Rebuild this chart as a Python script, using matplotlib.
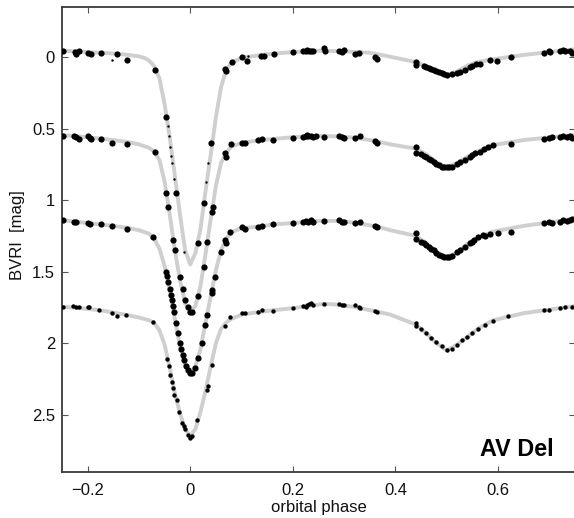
import matplotlib
matplotlib.use("Agg")
import matplotlib.pyplot as plt

plt.rcParams['font.family'] = ['Liberation Sans', 'DejaVu Sans']

# model light curves (phase, magnitude)
b_phase = [-0.25, -0.20, -0.15, -0.12, -0.10, -0.09, -0.08, -0.07, -0.06, -0.05, -0.04, -0.03, -0.02, -0.01, 0.0,
           0.01, 0.02, 0.03, 0.04, 0.05, 0.06, 0.07, 0.08, 0.10, 0.15, 0.20, 0.25, 0.30, 0.35, 0.38, 0.42, 0.44,
           0.46, 0.48, 0.50, 0.52, 0.54, 0.56, 0.60, 0.65, 0.70, 0.75]
b_mag = [-0.045, -0.035, -0.025, -0.015, -0.005, 0.005, 0.025, 0.065, 0.15, 0.33, 0.56, 0.83, 1.10, 1.35, 1.45,
         1.37, 1.20, 0.93, 0.68, 0.42, 0.21, 0.09, 0.04, 0.005, -0.02, -0.035, -0.045, -0.04, -0.03, -0.01, 0.02, 0.035,
         0.065, 0.10, 0.125, 0.10, 0.06, 0.035, 0.01, -0.015, -0.035, -0.055]

v_phase = [-0.25, -0.20, -0.15, -0.12, -0.10, -0.08, -0.07, -0.06, -0.05, -0.04, -0.03, -0.02, -0.01, 0.0,
           0.01, 0.02, 0.03, 0.04, 0.05, 0.06, 0.07, 0.08, 0.10, 0.137, 0.16, 0.20, 0.25, 0.29, 0.325, 0.365, 0.39,
           0.44, 0.46, 0.48, 0.50, 0.52, 0.546, 0.56, 0.59, 0.65, 0.69, 0.75]
v_mag = [0.545, 0.56, 0.58, 0.595, 0.61, 0.635, 0.66, 0.72, 0.87, 1.10, 1.35, 1.56, 1.72, 1.785,
         1.74, 1.60, 1.37, 1.13, 0.90, 0.74, 0.67, 0.625, 0.60, 0.58, 0.573, 0.56, 0.55, 0.555, 0.565, 0.59, 0.61,
         0.64, 0.68, 0.735, 0.77, 0.74, 0.685, 0.66, 0.615, 0.58, 0.565, 0.545]

r_phase = [-0.25, -0.20, -0.15, -0.12, -0.10, -0.08, -0.07, -0.06, -0.05, -0.04, -0.03, -0.02, -0.01, 0.0,
           0.01, 0.02, 0.03, 0.04, 0.05, 0.06, 0.07, 0.08, 0.10, 0.137, 0.16, 0.20, 0.25, 0.29, 0.325, 0.365, 0.39,
           0.44, 0.46, 0.48, 0.50, 0.52, 0.546, 0.56, 0.59, 0.65, 0.69, 0.75]
r_mag = [1.14, 1.16, 1.18, 1.195, 1.21, 1.235, 1.27, 1.34, 1.46, 1.63, 1.83, 2.02, 2.15, 2.205,
         2.16, 2.04, 1.85, 1.67, 1.49, 1.35, 1.27, 1.225, 1.195, 1.185, 1.17, 1.16, 1.145, 1.145, 1.16, 1.185, 1.21,
         1.25, 1.30, 1.36, 1.40, 1.365, 1.29, 1.265, 1.22, 1.18, 1.16, 1.13]

i_phase = [-0.25, -0.20, -0.175, -0.127, -0.10, -0.08, -0.07, -0.06, -0.05, -0.04, -0.03, -0.02, -0.01, 0.0,
           0.01, 0.02, 0.03, 0.04, 0.05, 0.06, 0.07, 0.08, 0.10, 0.137, 0.16, 0.20, 0.23, 0.26, 0.29, 0.325, 0.365,
           0.39, 0.44, 0.46, 0.48, 0.50, 0.52, 0.546, 0.56, 0.59, 0.65, 0.69, 0.75]
i_mag = [1.745, 1.76, 1.77, 1.80, 1.82, 1.84, 1.86, 1.91, 2.01, 2.17, 2.35, 2.49, 2.60, 2.65,
         2.60, 2.48, 2.33, 2.16, 2.00, 1.90, 1.855, 1.83, 1.80, 1.78, 1.77, 1.755, 1.74, 1.725, 1.73, 1.75, 1.78,
         1.80, 1.87, 1.93, 2.00, 2.05, 2.01, 1.94, 1.90, 1.84, 1.79, 1.77, 1.74]

# observations (large dots)
b_obs_phase = [-0.248, -0.224, -0.222, -0.216, -0.200, -0.193, -0.174, -0.142, -0.123, -0.068, -0.047, -0.027,
               0.016, 0.027, 0.041, 0.068, 0.069, 0.082, 0.10, 0.111, 0.137, 0.143, 0.164, 0.20, 0.22, 0.225,
               0.228, 0.232, 0.236, 0.24, 0.26, 0.262, 0.29, 0.295, 0.30, 0.322, 0.328, 0.36, 0.365,
               0.44, 0.441, 0.455, 0.46, 0.465, 0.47, 0.475, 0.48, 0.485, 0.49, 0.495, 0.50, 0.51, 0.52, 0.525,
               0.535, 0.545, 0.55, 0.557, 0.565, 0.585, 0.597, 0.625, 0.69, 0.70, 0.702, 0.72, 0.727, 0.73,
               0.74, 0.745]
b_obs_mag = [-0.04, -0.035, -0.02, -0.04, -0.03, -0.02, -0.03, -0.02, 0.02, 0.09, 0.42, 0.95,
             1.30, 1.02, 0.60, 0.08, 0.10, 0.035, 0.0, 0.03, -0.005, -0.005, -0.02, -0.035, -0.04, -0.045,
             -0.05, -0.045, -0.04, -0.045, -0.06, -0.04, -0.04, -0.035, -0.05, -0.02, -0.03, 0.0, 0.01,
             0.035, 0.055, 0.06, 0.07, 0.075, 0.085, 0.09, 0.10, 0.105, 0.11, 0.115, 0.125, 0.12, 0.11, 0.105,
             0.09, 0.07, 0.06, 0.05, 0.045, 0.02, 0.03, 0.0, -0.03, -0.04, -0.035, -0.04, -0.05, -0.04,
             -0.045, -0.03]
b_small_phase = [-0.152, -0.043, -0.041, -0.039, -0.037, -0.035, -0.031, -0.013, 0.030, 0.035, 0.112]
b_small_mag = [0.02, 0.48, 0.55, 0.63, 0.69, 0.74, 0.85, 1.36, 0.87, 0.74, -0.01]

v_obs_phase = [-0.248, -0.226, -0.222, -0.217, -0.200, -0.196, -0.193, -0.174, -0.152, -0.123, -0.068,
               -0.047, -0.043, -0.033, -0.030, -0.020, -0.015, -0.010, -0.005, 0.0, 0.004, 0.016, 0.026, 0.033,
               0.043, 0.045, 0.068, 0.069, 0.080, 0.10, 0.106, 0.133, 0.14, 0.162, 0.20, 0.22, 0.225, 0.228,
               0.23, 0.235, 0.24, 0.245, 0.26, 0.29, 0.295, 0.30, 0.322, 0.33, 0.36, 0.365,
               0.44, 0.441, 0.45, 0.455, 0.46, 0.465, 0.47, 0.475, 0.48, 0.485, 0.49, 0.495, 0.50, 0.505, 0.51,
               0.52, 0.525, 0.535, 0.545, 0.55, 0.556, 0.565, 0.572, 0.58, 0.59, 0.625, 0.69, 0.70, 0.705,
               0.72, 0.727, 0.735, 0.74, 0.745]
v_obs_mag = [0.55, 0.55, 0.56, 0.57, 0.555, 0.565, 0.57, 0.57, 0.60, 0.61, 0.66,
             0.95, 1.05, 1.28, 1.35, 1.54, 1.62, 1.70, 1.75, 1.78, 1.785, 1.67, 1.47, 1.29,
             1.08, 1.05, 0.67, 0.70, 0.61, 0.60, 0.60, 0.58, 0.57, 0.58, 0.565, 0.56, 0.55, 0.545,
             0.555, 0.55, 0.56, 0.55, 0.56, 0.555, 0.56, 0.565, 0.565, 0.555, 0.59, 0.60,
             0.63, 0.67, 0.68, 0.69, 0.70, 0.715, 0.72, 0.735, 0.745, 0.755, 0.765, 0.77, 0.77, 0.77, 0.765,
             0.745, 0.735, 0.72, 0.70, 0.685, 0.67, 0.66, 0.645, 0.63, 0.615, 0.605, 0.57, 0.565, 0.56,
             0.56, 0.555, 0.56, 0.555, 0.565]

r_obs_phase = [-0.248, -0.226, -0.222, -0.200, -0.196, -0.174, -0.152, -0.123, -0.072,
               -0.047, -0.045, -0.043, -0.040, -0.038, -0.036, -0.034, -0.032, -0.028, -0.024, -0.020, -0.018,
               -0.015, -0.012, -0.008, -0.004, 0.0, 0.004, 0.010, 0.016, 0.022, 0.029, 0.033, 0.042, 0.043,
               0.048, 0.059, 0.068, 0.069, 0.078, 0.10, 0.106, 0.133, 0.14, 0.162, 0.20, 0.22, 0.225, 0.23,
               0.235, 0.24, 0.26, 0.29, 0.295, 0.30, 0.322, 0.33, 0.36, 0.365,
               0.44, 0.441, 0.45, 0.455, 0.46, 0.465, 0.47, 0.475, 0.48, 0.485, 0.49, 0.495, 0.50, 0.505, 0.51,
               0.52, 0.525, 0.535, 0.545, 0.55, 0.553, 0.56, 0.57, 0.575, 0.585, 0.60, 0.625, 0.69, 0.70, 0.705,
               0.72, 0.727, 0.735, 0.74, 0.745]
r_obs_mag = [1.14, 1.15, 1.15, 1.16, 1.165, 1.17, 1.18, 1.20, 1.26,
             1.50, 1.53, 1.57, 1.62, 1.66, 1.70, 1.74, 1.78, 1.86, 1.93, 2.00, 2.04,
             2.08, 2.12, 2.16, 2.19, 2.21, 2.21, 2.17, 2.10, 2.00, 1.87, 1.80, 1.65, 1.63,
             1.54, 1.36, 1.28, 1.30, 1.22, 1.19, 1.20, 1.19, 1.18, 1.17, 1.16, 1.15, 1.145, 1.155,
             1.14, 1.15, 1.145, 1.14, 1.15, 1.155, 1.16, 1.155, 1.18, 1.19,
             1.23, 1.27, 1.29, 1.30, 1.31, 1.33, 1.34, 1.35, 1.37, 1.38, 1.39, 1.40, 1.40, 1.40, 1.39,
             1.36, 1.35, 1.33, 1.30, 1.29, 1.28, 1.26, 1.245, 1.25, 1.235, 1.23, 1.22, 1.16, 1.155, 1.16,
             1.15, 1.14, 1.145, 1.14, 1.135]

i_obs_phase = [-0.248, -0.228, -0.222, -0.216, -0.200, -0.197, -0.178, -0.152, -0.142, -0.125, -0.072,
               -0.045, -0.042, -0.039, -0.035, -0.033, -0.031, -0.025, -0.021, -0.016, -0.013, -0.010, -0.004,
               0.0, 0.004, 0.013, 0.033, 0.035, 0.043, 0.068, 0.078, 0.10, 0.106, 0.133, 0.14, 0.162, 0.20,
               0.22, 0.225, 0.228, 0.232, 0.236, 0.24, 0.26, 0.29, 0.295, 0.30, 0.322, 0.328, 0.33, 0.36, 0.365,
               0.44, 0.441, 0.45, 0.46, 0.47, 0.48, 0.49, 0.50, 0.51, 0.52, 0.53, 0.54, 0.55, 0.56, 0.575,
               0.59, 0.62, 0.69, 0.70, 0.72, 0.73, 0.745]
i_obs_mag = [1.745, 1.74, 1.745, 1.75, 1.745, 1.75, 1.77, 1.79, 1.81, 1.80, 1.85,
             2.11, 2.16, 2.22, 2.27, 2.31, 2.36, 2.40, 2.48, 2.56, 2.58, 2.60, 2.64,
             2.66, 2.65, 2.54, 2.33, 2.30, 2.15, 1.88, 1.82, 1.79, 1.79, 1.78, 1.77, 1.775, 1.755,
             1.74, 1.745, 1.735, 1.725, 1.72, 1.73, 1.725, 1.725, 1.73, 1.735, 1.735, 1.745, 1.755, 1.775, 1.78,
             1.86, 1.88, 1.90, 1.93, 1.96, 1.99, 2.02, 2.05, 2.04, 2.01, 1.98, 1.955, 1.93, 1.90, 1.87,
             1.845, 1.81, 1.77, 1.765, 1.755, 1.75, 1.745]

xticks = [-0.2, 0, 0.2, 0.4, 0.6]
xtick_labels = ['\u22120.2', '0', '0.2', '0.4', '0.6']
yticks = [0, 0.5, 1, 1.5, 2, 2.5]
ytick_labels = ['0', '0.5', '1', '1.5', '2', '2.5']

fig = plt.figure(figsize=(5.74, 5.18), dpi=100)
ax = fig.add_axes([62 / 574, 46 / 518, 513 / 574, 465 / 518])

for ph, mg in [(b_phase, b_mag), (v_phase, v_mag), (r_phase, r_mag), (i_phase, i_mag)]:
    ax.plot(ph, mg, color='#cfcfcf', lw=2.8, solid_capstyle='round', zorder=1)

for ph, mg in [(b_obs_phase, b_obs_mag), (v_obs_phase, v_obs_mag), (r_obs_phase, r_obs_mag)]:
    ax.scatter(ph, mg, s=20, color='black', linewidths=0, zorder=3)
ax.scatter(i_obs_phase, i_obs_mag, s=10, color='black', linewidths=0, zorder=3)
ax.scatter(b_small_phase, b_small_mag, s=3, color='black', linewidths=0, zorder=3)

ax.set_xlim(-0.25, 0.75)
ax.set_ylim(2.9, -0.35)
ax.set_xticks(xticks)
ax.set_xticklabels(xtick_labels)
ax.set_yticks(yticks)
ax.set_yticklabels(ytick_labels)
ax.tick_params(direction='in', top=True, right=True, length=4, width=0.8, color='#555555',
               labelsize=12, labelcolor='#111111')
ax.tick_params(axis='x', pad=8)
ax.tick_params(axis='y', pad=5)
for sp in ax.spines.values():
    sp.set_color('#3a3a3a')
    sp.set_linewidth(1.3)

ax.set_xlabel('orbital phase', fontsize=12, color='#111111')
ax.set_ylabel('BVRI  [mag]', fontsize=12, color='#111111')
ax.xaxis.set_label_coords(0.5, -0.061)
ax.yaxis.set_label_coords(-0.072, 0.51)

ax.text(0.815, 0.034, 'AV Del', transform=ax.transAxes, fontsize=16.8, fontweight='bold',
        ha='left', va='baseline')

fig.savefig('out.png', dpi=100)
